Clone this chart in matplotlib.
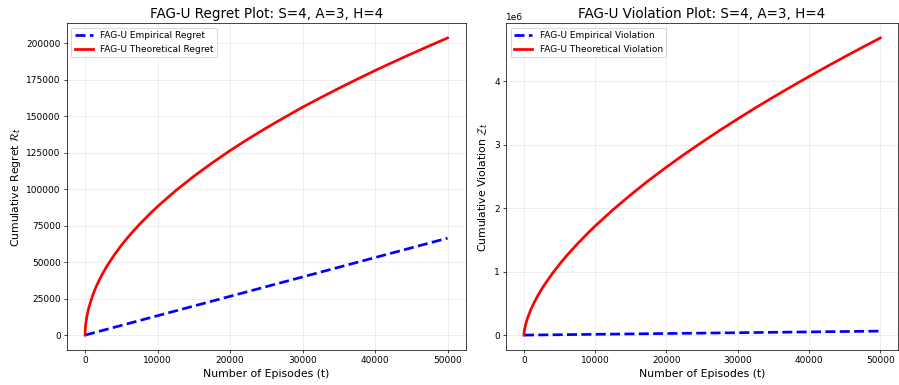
import numpy as np
import matplotlib
matplotlib.use("Agg")
import matplotlib.pyplot as plt

t = [0, 10, 25, 50, 100, 250, 500, 1000, 1500, 2000, 2500, 3000, 4000, 5000,
     6000, 7500, 9000, 10000, 12500, 15000, 17500, 20000, 22500, 25000,
     27500, 30000, 32500, 35000, 37500, 40000, 42500, 45000, 47500, 50000]

regret_theory = [0, 2430, 3910, 5610, 8050, 12960, 18590, 26650, 32920, 38210,
                 42910, 47190, 54790, 61540, 67660, 75980, 83530, 88230,
                 99090, 108940, 118030, 126550, 134540, 142100, 149300,
                 156300, 162880, 169260, 175430, 181450, 187240, 192900,
                 198400, 203800]

viol_theory = [0, 23420, 41410, 63740, 98100, 173400, 266900, 410700, 528500,
               632200, 726400, 813600, 972500, 1117900, 1252000, 1438300,
               1611000, 1720000, 1976000, 2213000, 2437000, 2647000, 2849000,
               3041000, 3228000, 3407000, 3582000, 3750000, 3914000, 4075000,
               4231000, 4385000, 4535000, 4682000]

# empirical curves (close to straight lines)
t_emp = [0, 5000, 10000, 15000, 20000, 25000, 30000, 35000, 40000, 45000, 50000]
regret_emp = [0, 6650, 13300, 19950, 26600, 33250, 39900, 46550, 53200, 59850, 66500]
viol_emp = [0, 6300, 12600, 18900, 25200, 31500, 37800, 44100, 50400, 56700, 63000]

DPI = 65
fig = plt.figure(figsize=(899 / DPI, 385 / DPI), dpi=DPI)
ax1 = fig.add_axes([0.0745, 0.091, 0.4435, 0.849])
ax2 = fig.add_axes([0.563, 0.091, 0.436, 0.849])

ax1.plot(t_emp, regret_emp, 'b--', lw=3, label='FAG-U Empirical Regret')
ax1.plot(t, regret_theory, 'r-', lw=3, label='FAG-U Theoretical Regret')
ax1.set_title('FAG-U Regret Plot: S=4, A=3, H=4', fontsize=15)
ax1.set_xlabel('Number of Episodes (t)', fontsize=12)
ax1.set_ylabel(r'Cumulative Regret $\mathcal{R}_t$', fontsize=12)

ax2.plot(t_emp, viol_emp, 'b--', lw=3, label='FAG-U Empirical Violation')
ax2.plot(t, viol_theory, 'r-', lw=3, label='FAG-U Theoretical Violation')
ax2.set_title('FAG-U Violation Plot: S=4, A=3, H=4', fontsize=15)
ax2.set_xlabel('Number of Episodes (t)', fontsize=12)
ax2.set_ylabel(r'Cumulative Violation $\mathcal{Z}_t$', fontsize=12)

for ax in (ax1, ax2):
    ax.grid(True, alpha=0.3)
    ax.legend(loc='upper left', fontsize=10)
    ax.tick_params(labelsize=10)

fig.savefig('out.png', dpi=DPI)
